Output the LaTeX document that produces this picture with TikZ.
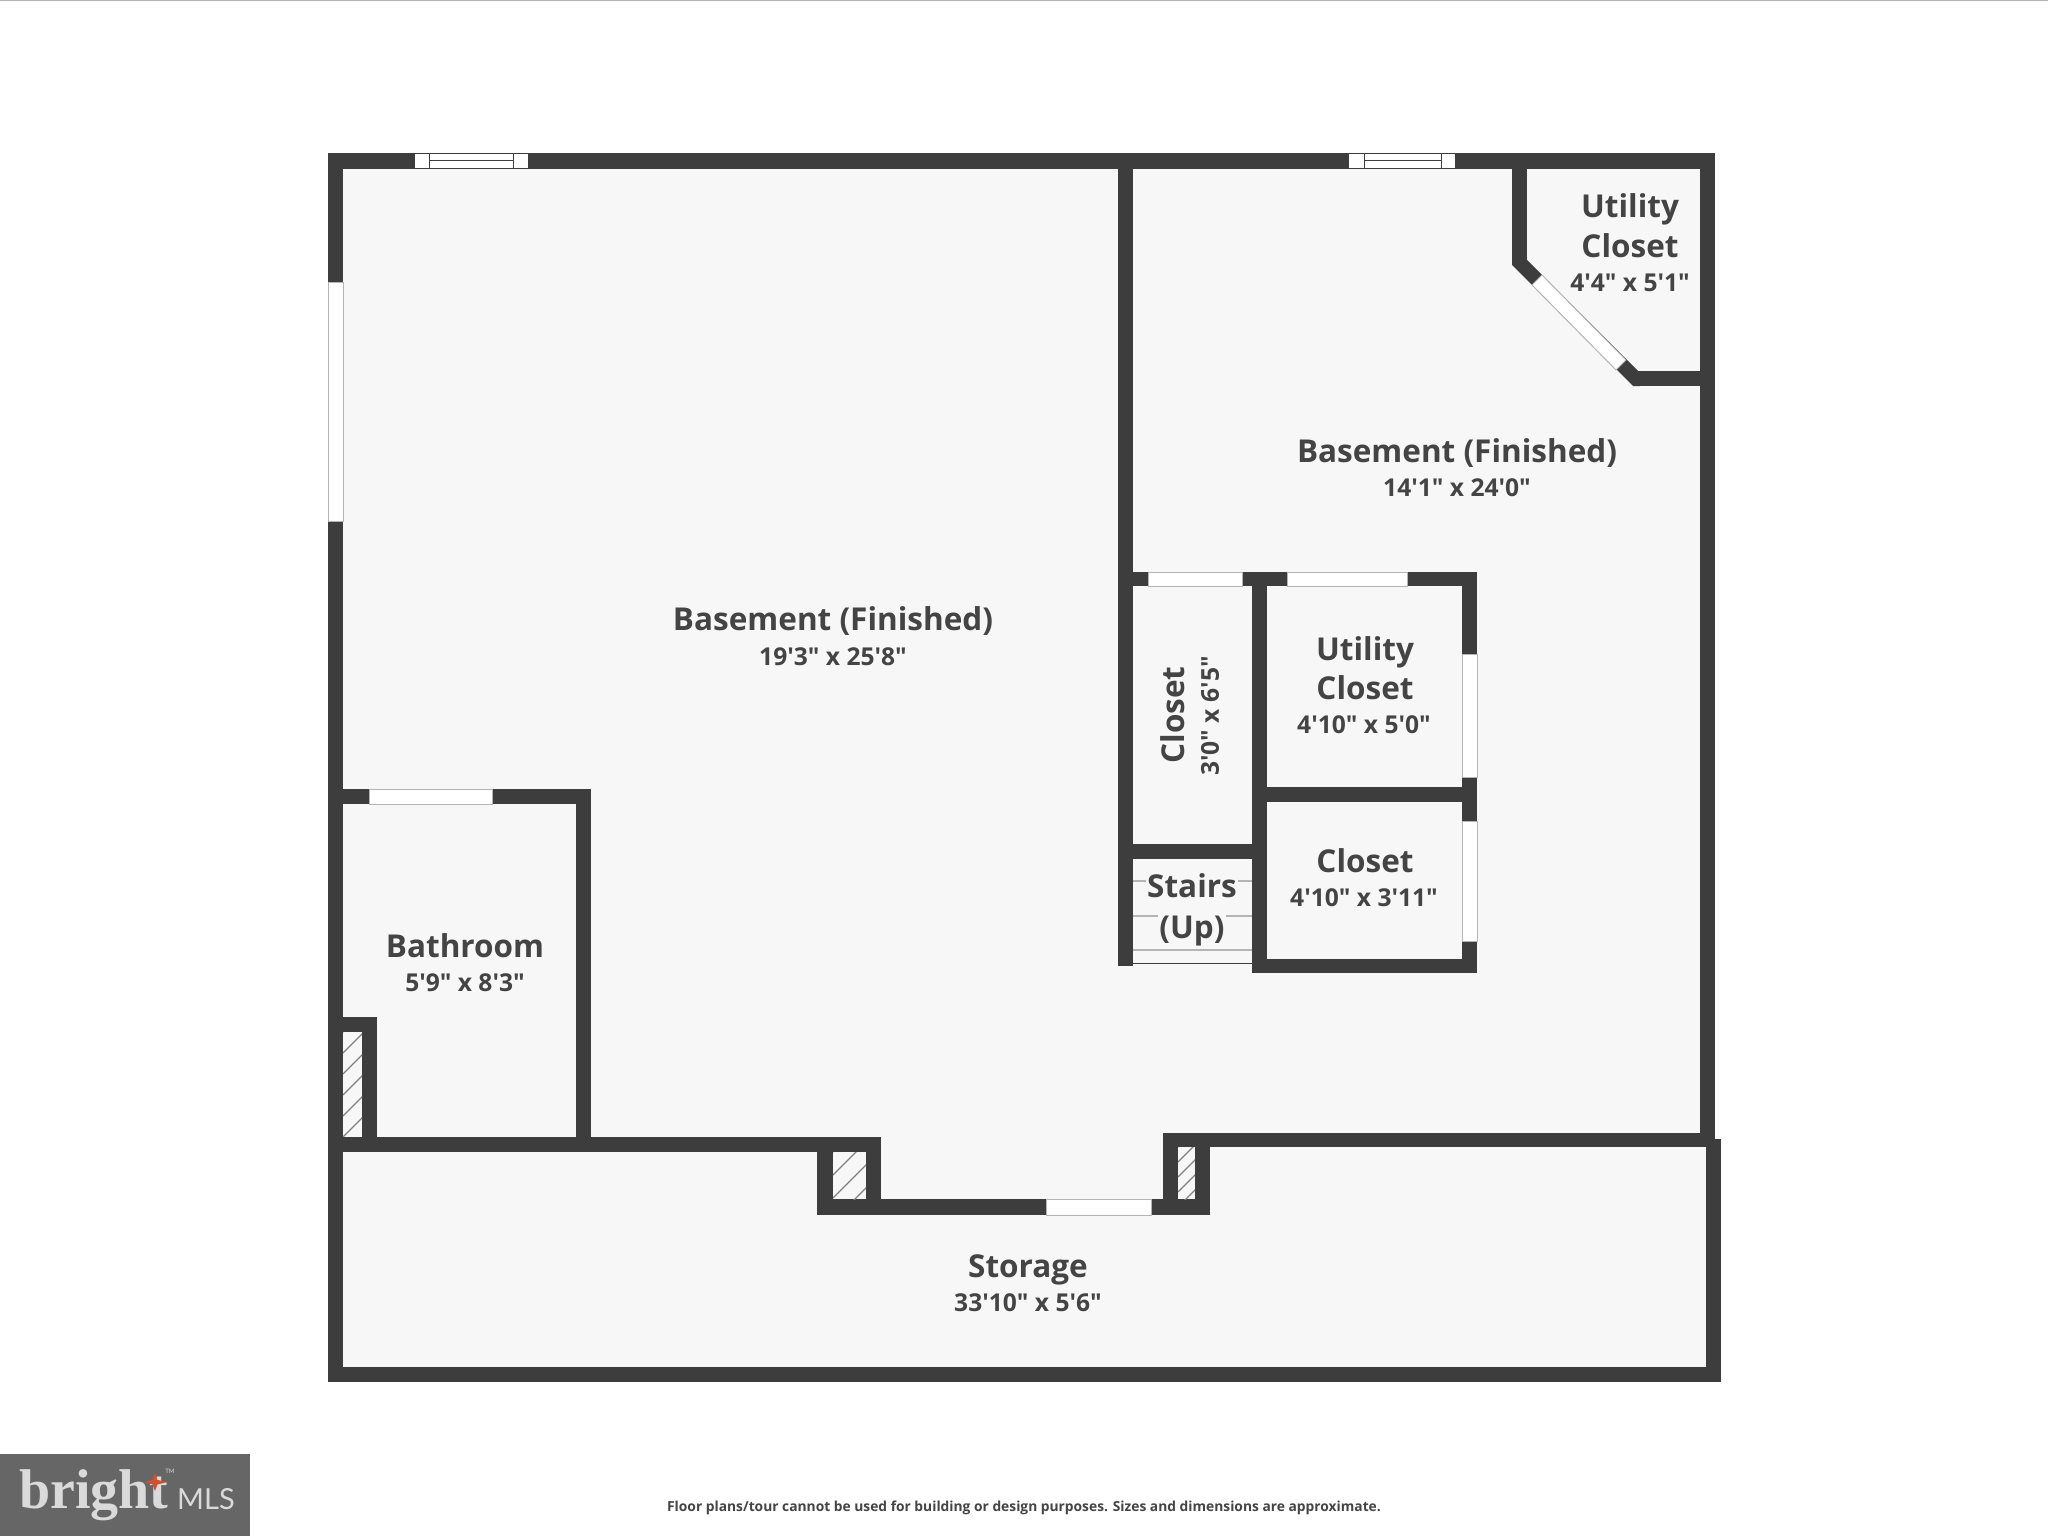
\documentclass[tikz,border=0pt]{standalone}
\usepackage{fontspec}
\newfontfamily\labelfont{Open Sans}
\newfontfamily\logoserif{Liberation Serif}
\newfontfamily\logosans{Lato}
\definecolor{wallcol}{HTML}{3D3D3D}
\definecolor{floorcol}{HTML}{F7F7F7}
\definecolor{textcol}{HTML}{444444}
\definecolor{edgecol}{HTML}{B4B4B4}
\definecolor{logocol}{HTML}{666666}
\definecolor{logotext}{HTML}{DADADA}
\definecolor{starcol}{HTML}{D2502D}
\tikzset{
  wall/.style={fill=wallcol},
  opening/.style={fill=white, draw=edgecol, line width=1pt},
  sash/.style={draw=wallcol, line width=1pt},
  tread/.style={draw=edgecol, line width=1.2pt},
  hatchline/.style={draw=gray, line width=1.2pt},
  roomname/.style={font=\labelfont\fontsize{31.5}{36}\selectfont\bfseries, text=textcol, fill=floorcol, inner sep=1pt},
  roomsize/.style={font=\labelfont\fontsize{24.6}{28}\selectfont\bfseries, text=textcol, inner sep=1pt},
}
\begin{document}
\begin{tikzpicture}[x=1pt, y=-1pt]
  \useasboundingbox (0, 0) rectangle (2048, 1536);
  \draw[edgecol, line width=1pt] (0, 0.5) -- (2048, 0.5);
  % floor
  \fill[floorcol] (328, 153.5) -- (1715, 153.5) -- (1715, 1139) -- (1721, 1139)
    -- (1721, 1381) -- (328, 1381) -- cycle;
  % walls
  \foreach \xa/\ya/\xb/\yb in {
    328/153.5/1715/168.5, 328/153.5/343/1381, 1700/153.5/1715/1147,
    1118/153.5/1133/966, 1512/153.5/1527/265, 1636/371/1715/386,
    1118/572/1477/586, 1462/572/1477/973, 1252/572/1267/973,
    1252/959/1477/973, 1267/787/1462/802, 1118/844/1252/859,
    328/789/591/804, 576/789/591/1151, 328/1017/377/1032, 362/1017/377/1151,
    328/1137/833/1152, 817/1137/881/1152, 817/1137/833/1215, 866/1137/881/1215,
    817/1199/1210/1215, 1163/1133/1715/1147, 1163/1133/1178/1215, 1195/1133/1210/1215,
    1706/1139/1721/1381, 328/1367/1721/1381.5}
    \fill[wall] (\xa, \ya) rectangle (\xb, \yb);
  \fill[wall] (1512, 265) -- (1527, 260) -- (1638, 371) -- (1640, 386) -- (1633, 386) -- cycle;
  % openings
  \foreach \xa/\ya/\xb/\yb in {
    328/282/343/521, 1148/572/1242/586, 1287/572/1407/586,
    1462/654/1477/777, 1462/821/1477/941, 369/789/492/804, 1046/1199/1151/1215,
    414/153.5/528/168.5, 1348/153.5/1455/168.5}
    \filldraw[opening] (\xa, \ya) rectangle (\xb, \yb);
  \filldraw[opening] (1542, 275) -- (1626, 360) -- (1616, 370) -- (1532, 285) -- cycle;
  \foreach \xa/\xb/\xc/\xd in {414/528/429/513, 1348/1455/1364/1441} {
    \draw[sash] (\xa, 153.5) rectangle (\xb, 168.5);
    \draw[sash] (\xc, 153.5) rectangle (\xd, 168.5);
    \draw[sash] (\xc, 161) -- (\xd, 161);
  }
  % stairs
  \foreach \y in {881, 916, 950}
    \draw[tread] (1133, \y) -- (1252, \y);
  \draw[wallcol, line width=1.2pt] (1133, 963.5) -- (1252, 963.5);
  % chases
  \foreach \xa/\ya/\xb/\yb/\gap in {343/1032/362/1136/21, 833/1152/866/1199/23, 1178/1147/1195/1199/15} {
    \begin{scope}
      \clip (\xa, \ya) rectangle (\xb, \yb);
      \fill[floorcol] (\xa, \ya) rectangle (\xb, \yb);
      \foreach \i in {0, 1, ..., 12}
        \draw[hatchline] (\xa, \ya + \i*\gap) -- ++(60, -60);
    \end{scope}
  }
  % labels
  \node[roomname] (mainname) at (833, 621) {Basement (Finished)};
  \node[roomsize] (mainsize) at (833, 657) {19'3" x 25'8"};
  \node[roomname] (eastname) at (1457, 453) {Basement (Finished)};
  \node[roomsize] (eastsize) at (1457, 488) {14'1" x 24'0"};
  \node[roomname] (cornerutil) at (1630, 209) {Utility};
  \node[roomname] (cornerclos) at (1630, 246) {Closet};
  \node[roomsize] (cornersize) at (1630, 283) {4'4" x 5'1"};
  \node[roomname] (midutil) at (1365, 652) {Utility};
  \node[roomname] (midclos) at (1365, 688) {Closet};
  \node[roomsize] (midsize) at (1364, 725) {4'10" x 5'0"};
  \node[roomname] (lowclos) at (1365, 861) {Closet};
  \node[roomsize] (lowsize) at (1364, 898) {4'10" x 3'11"};
  \node[roomname, rotate=90] (tallclos) at (1173, 715) {Closet};
  \node[roomsize, rotate=90] (tallsize) at (1210, 716) {3'0" x 6'5"};
  \node[roomname] (stairname) at (1192, 886) {Stairs};
  \node[roomname] (stairdir) at (1192, 931) {(Up)};
  \node[roomname] (bathname) at (465, 946) {Bathroom};
  \node[roomsize] (bathsize) at (465, 983) {5'9" x 8'3"};
  \node[roomname] (storename) at (1028, 1270) {Storage};
  \node[roomsize] (storesize) at (1028, 1303) {33'10" x 5'6"};
  \node[font=\labelfont\fontsize{13.8}{16}\selectfont\bfseries, text=textcol, inner sep=0pt] (disclaimer)
    at (1024, 1507.5) {Floor plans/tour cannot be used for building or design purposes. Sizes and dimensions are approximate.};
  % logo
  \fill[logocol] (0, 1454) rectangle (250, 1536);
  \node[font=\logoserif\bfseries\fontsize{56}{60}\selectfont, text=logotext, inner sep=0pt, anchor=base west]
    (logoword) at (19, 1508) {bright};
  \node[font=\logosans\fontsize{29}{30}\selectfont, text=logotext, inner sep=0pt, anchor=base west]
    (logomls) at (177, 1509) {MLS};
  \node[font=\logosans\fontsize{6}{7}\selectfont, text=logotext, inner sep=0pt] (logotm) at (170, 1471) {TM};
  \fill[starcol] (155, 1473) -- (157.5, 1480) -- (167, 1482) -- (157.5, 1484.5) -- (155, 1491)
    -- (152.5, 1484.5) -- (145, 1482) -- (152.5, 1480) -- cycle;
\end{tikzpicture}
\end{document}
